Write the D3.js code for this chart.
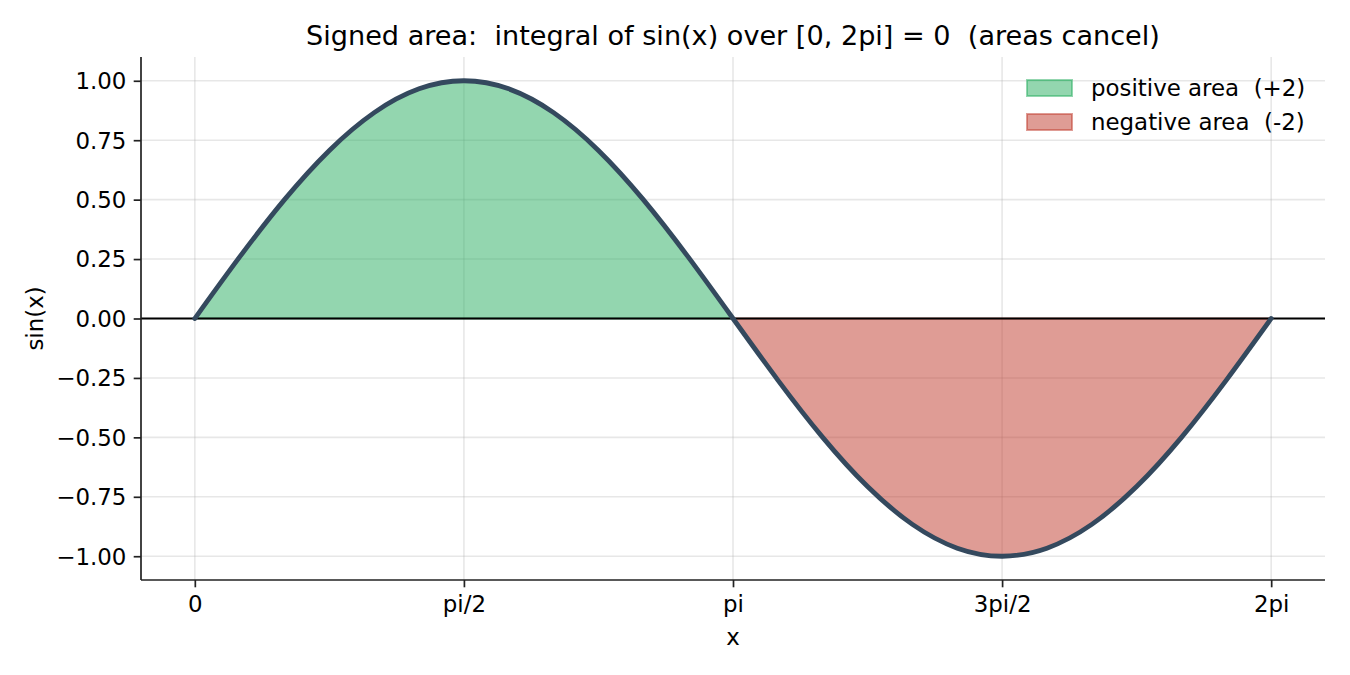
<!DOCTYPE html>
<html><head><meta charset="utf-8">
<script src="https://cdn.jsdelivr.net/npm/d3@7"></script>
<style>body{margin:0;background:#fff}svg{display:block}text{font-family:"DejaVu Sans",sans-serif;white-space:pre}</style>
</head><body>
<svg id="c" width="1350" height="675"></svg>
<script>
// sample points (x in multiples of pi/12) and sin(x) values
const xSteps = [0,1,2,3,4,5,6,7,8,9,10,11,12,13,14,15,16,17,18,19,20,21,22,23,24];
const yVals = [0,0.259,0.5,0.707,0.866,0.966,1,0.966,0.866,0.707,0.5,0.259,0,-0.259,-0.5,-0.707,-0.866,-0.966,-1,-0.966,-0.866,-0.707,-0.5,-0.259,0];
const xTickVals = [0, 1.5708, 3.1416, 4.7124, 6.2832];
const xTickLabels = ["0","pi/2","pi","3pi/2","2pi"];
const yTickVals = [1,0.75,0.5,0.25,0,-0.25,-0.5,-0.75,-1];
const legendLabels = ["positive area  (+2)","negative area  (-2)"];

const PI = Math.PI;
const pts = xSteps.map((s,i)=>({x:s*PI/12, y:yVals[i]}));
const svg = d3.select("#c");
const L=141, R=1325, T=57, B=580;
const FS = 22.9;
const x = d3.scaleLinear().domain([-0.05*2*PI, 2*PI*1.05]).range([L,R]);
const y = d3.scaleLinear().domain([-1.1,1.1]).range([B,T]);

// grid
const g = svg.append("g");
xTickVals.forEach(v=>g.append("line").attr("x1",x(v)).attr("x2",x(v)).attr("y1",T).attr("y2",B).attr("stroke","#b0b0b0").attr("stroke-opacity",0.3).attr("stroke-width",1.6));
yTickVals.forEach(v=>g.append("line").attr("x1",L).attr("x2",R).attr("y1",y(v)).attr("y2",y(v)).attr("stroke","#b0b0b0").attr("stroke-opacity",0.3).attr("stroke-width",1.6));

const curve = d3.curveNatural;
const pos = pts.filter(p=>p.x<=PI+1e-9);
const neg = pts.filter(p=>p.x>=PI-1e-9);
const area = d3.area().x(d=>x(d.x)).y0(y(0)).y1(d=>y(d.y)).curve(curve);
svg.append("path").datum(pos).attr("d",area).attr("fill","#27ae60").attr("fill-opacity",0.5).attr("stroke","#27ae60").attr("stroke-opacity",0.5).attr("stroke-width",2);
svg.append("path").datum(neg).attr("d",area).attr("fill","#c0392b").attr("fill-opacity",0.5).attr("stroke","#c0392b").attr("stroke-opacity",0.5).attr("stroke-width",2);

// zero line
svg.append("line").attr("x1",L).attr("x2",R).attr("y1",y(0)).attr("y2",y(0)).attr("stroke","#000").attr("stroke-width",2);

// curve
svg.append("path").datum(pts).attr("d",d3.line().x(d=>x(d.x)).y(d=>y(d.y)).curve(curve)).attr("fill","none").attr("stroke","#34495e").attr("stroke-width",4.8).attr("stroke-linecap","round").attr("stroke-linejoin","round");

// axes
const xa = svg.append("g").attr("transform",`translate(0,${B})`).call(d3.axisBottom(x).tickValues(xTickVals).tickFormat((d,i)=>xTickLabels[i]).tickSizeOuter(0).tickSize(7.3).tickPadding(7.3));
const ya = svg.append("g").attr("transform",`translate(${L},0)`).call(d3.axisLeft(y).tickValues(yTickVals).tickFormat(d=>d3.format(".2f")(d).replace("-","\u2212")).tickSizeOuter(0).tickSize(7.3).tickPadding(7.3));
[xa,ya].forEach(a=>{
  a.selectAll("path").attr("stroke","#222").attr("stroke-width",1.7).attr("d", a===xa?`M${L},0H${R}`:`M0,${T}V${B}`);
  a.selectAll(".tick line").attr("stroke","#222").attr("stroke-width",1.7);
  a.selectAll("text").attr("fill","#000").style("font-size",FS+"px").style("font-family","DejaVu Sans");
});
xa.selectAll("text").attr("dy","0.76em");
ya.selectAll("text").attr("dy","0.34em");

svg.append("text").attr("x",(L+R)/2).attr("y",645).attr("text-anchor","middle").style("font-size",FS+"px").text("x");
svg.append("text").attr("transform",`translate(43,${(T+B)/2}) rotate(-90)`).attr("text-anchor","middle").style("font-size",FS+"px").text("sin(x)");
svg.append("text").attr("x",(L+R)/2).attr("y",45).attr("text-anchor","middle").style("font-size","27.1px").text("Signed area:  integral of sin(x) over [0, 2pi] = 0  (areas cancel)");

// legend
const lc = ["#27ae60","#c0392b"];
legendLabels.forEach((t,i)=>{
  const yy = 80 + i*34;
  svg.append("rect").attr("x",1027).attr("y",yy).attr("width",45).attr("height",16).attr("fill",lc[i]).attr("fill-opacity",0.5).attr("stroke",lc[i]).attr("stroke-opacity",0.5).attr("stroke-width",2);
  svg.append("text").attr("x",1091).attr("y",yy+16).style("font-size",FS+"px").text(t);
});
</script>
</body></html>
